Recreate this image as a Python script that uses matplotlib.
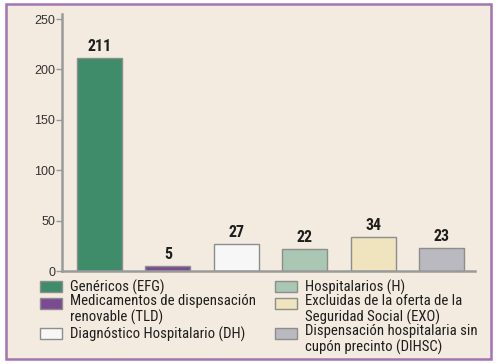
import matplotlib.pyplot as plt
from matplotlib.patches import Rectangle
from matplotlib.font_manager import FontProperties

plt.rcParams['font.family'] = ['Roboto Condensed', 'DejaVu Sans']

# data
categories = ["Genéricos (EFG)",
              "Medicamentos de dispensación\nrenovable (TLD)",
              "Diagnóstico Hospitalario (DH)",
              "Hospitalarios (H)",
              "Excluidas de la oferta de la\nSeguridad Social (EXO)",
              "Dispensación hospitalaria sin\ncupón precinto (DIHSC)"]
values = [211, 5, 27, 22, 34, 23]
colors = ["#3f8c6b", "#7b4a92", "#f7f7f7", "#a9c7b3", "#efe4bd", "#b9b9bf"]
yticks = [0, 50, 100, 150, 200, 250]

W, H = 498, 364
bg = "#f3ebdf"
edge = "#8d8d8d"
txt = "#1e1e1e"
leg_size = 10.6


def fx(px):
    return px / W


def fy(py):
    return 1 - py / H


fig = plt.figure(figsize=(W / 100, H / 100), dpi=100)
fig.patch.set_facecolor("white")
fig.patches.append(Rectangle((fx(6), fy(359)), 485 / W, 355 / H,
                             transform=fig.transFigure, facecolor=bg,
                             edgecolor="#a274b4", linewidth=1.8, zorder=-5))

ax = fig.add_axes([fx(62), fy(271), 413 / W, 257 / H])
ax.set_facecolor("none")
x = list(range(len(values)))
ax.bar(x, values, width=0.66, color=colors, edgecolor=edge, linewidth=1.0, zorder=2)
for xi, v in zip(x, values):
    ax.text(xi, v + 7, str(v), ha="center", va="baseline", fontsize=11.5,
            fontweight="bold", color=txt)

ax.set_xlim(-0.548, 5.49)
ax.set_ylim(0, 255)
ax.set_yticks(yticks)
ax.set_xticks([])
for s in ["top", "right"]:
    ax.spines[s].set_visible(False)
for s in ["left", "bottom"]:
    ax.spines[s].set_color("#9a9a9a")
    ax.spines[s].set_linewidth(1.8)
ax.tick_params(axis="y", length=4, width=1, color="#9a9a9a", labelsize=9,
               labelcolor="#333333", pad=1)
for lbl in ax.get_yticklabels():
    lbl.set_fontfamily("Liberation Sans")

# line pitch of 13 px for the wrapped legend labels
renderer = fig.canvas.get_renderer()
_, lp_h, lp_d = renderer.get_text_width_height_descent(
    "lp", FontProperties(family="Roboto Condensed", size=leg_size), ismath=False)
line_h = 13
spacing = line_h / (lp_h - lp_d)

# legend, two columns, handle lined up with the first text line
# (va="baseline" anchors the last line of a wrapped label)
col_x = [40, 275]
for col in range(2):
    base = 292
    for i in range(3):
        k = col * 3 + i
        n_lines = categories[k].count("\n") + 1
        fig.patches.append(Rectangle((fx(col_x[col]), fy(base)), 22 / W, 11 / H,
                                     transform=fig.transFigure, facecolor=colors[k],
                                     edgecolor=edge, linewidth=1.0))
        fig.text(fx(col_x[col] + 30), fy(base + (n_lines - 1) * line_h), categories[k],
                 ha="left", va="baseline", fontsize=leg_size, color=txt,
                 linespacing=spacing)
        base += line_h * n_lines + 4

fig.savefig("out.png", dpi=100)
